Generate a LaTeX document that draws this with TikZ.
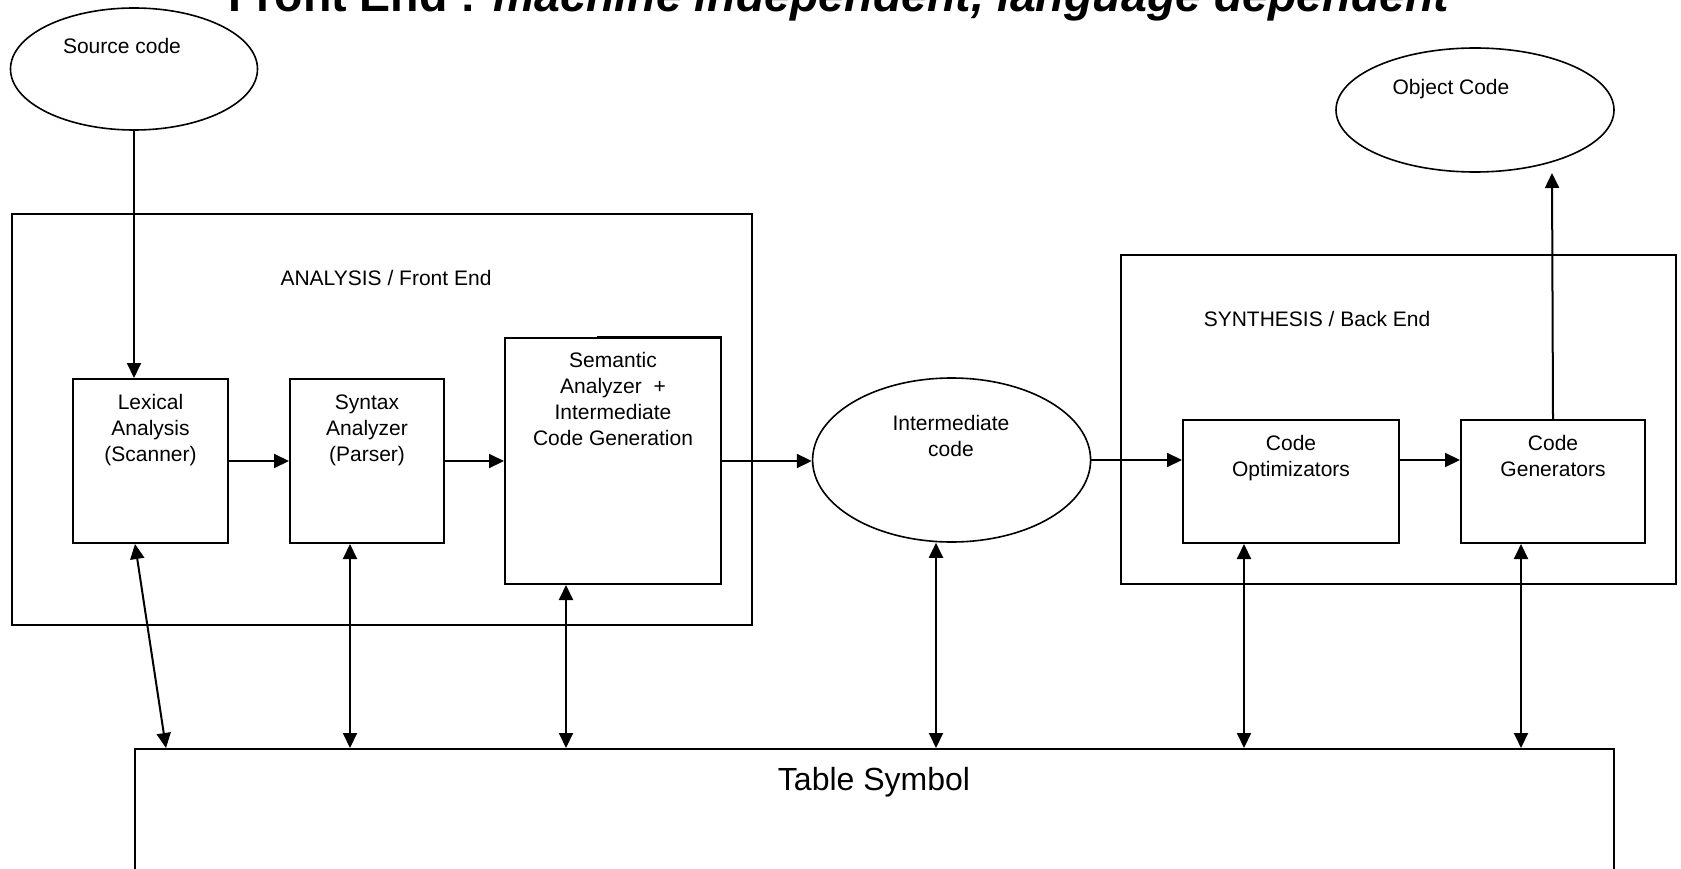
\documentclass[tikz,border=0pt]{standalone}
\usepackage{fontspec}
\setmainfont{Liberation Sans}
\usetikzlibrary{arrows.meta,shapes.geometric,calc}

\begin{document}
\begin{tikzpicture}[x=1pt,y=-1pt,
  frame/.style={draw, line width=2pt, rectangle, inner sep=0pt, anchor=north west},
  oval/.style={draw, line width=1.6pt, ellipse, inner sep=0pt},
  txt/.style={font=\fontsize{21}{26}\selectfont, align=center, inner sep=0pt, anchor=base},
  flow/.style={line width=2pt, -{Triangle[length=15pt,width=14pt]}},
  both/.style={line width=2pt, {Triangle[length=15pt,width=14pt]}-{Triangle[length=15pt,width=14pt]}},
]
\useasboundingbox (0,0) rectangle (1681,869);
\fill[white] (0,0) rectangle (1681,869);

% title
\node[anchor=base west, inner sep=0pt, font=\fontsize{46.5}{52}\selectfont\bfseries]
  (title) at (228,12) {Front End : \textit{machine independent, language dependent}};

% phase frames
\node[frame, minimum width=740pt, minimum height=411pt] (ana) at (11,213) {};
\node[frame, minimum width=555pt, minimum height=329pt] (synth) at (1120,254) {};

% stages
\node[frame, minimum width=155pt, minimum height=164pt] (lex) at (72,378) {};
\node[frame, minimum width=154pt, minimum height=164pt] (syn) at (289,378) {};
\node[frame, minimum width=216pt, minimum height=246pt] (sem) at (504,337) {};
\draw[line width=1.6pt] ([xshift=93pt,yshift=0.7pt]sem.north west) -- ([yshift=0.7pt]sem.north east);
\node[frame, minimum width=216pt, minimum height=123pt] (opt) at (1182,419) {};
\node[frame, minimum width=184pt, minimum height=123pt] (gen) at (1460,419) {};
\node[frame, minimum width=1479pt, minimum height=220pt] (tab) at (134,748) {};

% data
\node[oval, minimum width=247pt, minimum height=122pt] (src) at (134,69) {};
\node[oval, minimum width=278pt, minimum height=124pt] (obj) at (1475,110) {};
\node[oval, minimum width=278pt, minimum height=164pt] (inter) at (951.6,460) {};

% texts (multi-line nodes sit on the baseline of their last line)
\node[txt] (srcT) at (122,54) {Source code};
\node[txt] (objT) at (1451,95) {Object Code};
\node[txt] (anaT) at (386,285) {ANALYSIS / Front End};
\node[txt] (synthT) at (1317,326) {SYNTHESIS / Back End};
\node[txt] (lexT) at ([yshift=-83pt]lex.north) {Lexical\\Analysis\\(Scanner)};
\node[txt] (synT) at ([yshift=-83pt]syn.north) {Syntax\\Analyzer\\(Parser)};
\node[txt] (semT) at ([yshift=-108pt]sem.north) {Semantic\\Analyzer\ \ +\\Intermediate\\Code Generation};
\node[txt] (optT) at ([yshift=-57pt]opt.north) {Code\\Optimizators};
\node[txt] (genT) at ([yshift=-57pt]gen.north) {Code\\Generators};
\node[txt] (interT) at (951,456) {Intermediate\\code};
\node[txt, font=\fontsize{32}{38}\selectfont] (tabT) at (874,790) {Table Symbol};

% main flow
\draw[flow] (src.south) -- (src.south |- lex.north);
\draw[flow] (lex.east) -- (syn.west);
\draw[flow] (syn.east) -- (syn.east -| sem.west);
\draw[flow] (sem.east) -- (sem.east -| inter.west);
\draw[flow] (inter.east) -- (inter.east -| opt.west);
\draw[flow] (opt.east |- inter.east) -- (gen.west |- inter.east);
\coordinate (objin) at (1552,173);
\draw[flow] (gen.north) -- (objin);

% symbol table links
\coordinate (a1) at ([xshift=63pt]lex.south west);
\coordinate (b1) at ([xshift=32pt]tab.north west);
\coordinate (a2) at ([xshift=61pt]syn.south west);
\coordinate (a3) at ([xshift=62pt]sem.south west);
\coordinate (a4) at ([xshift=-15.6pt]inter.south);
\coordinate (a5) at ([xshift=62pt]opt.south west);
\coordinate (a6) at ([xshift=61pt]gen.south west);
\draw[both] (a1) -- (b1);
\draw[both] (a2) -- (a2 |- tab.north);
\draw[both] (a3) -- (a3 |- tab.north);
\draw[both] (a4) -- (a4 |- tab.north);
\draw[both] (a5) -- (a5 |- tab.north);
\draw[both] (a6) -- (a6 |- tab.north);
\end{tikzpicture}
\end{document}
